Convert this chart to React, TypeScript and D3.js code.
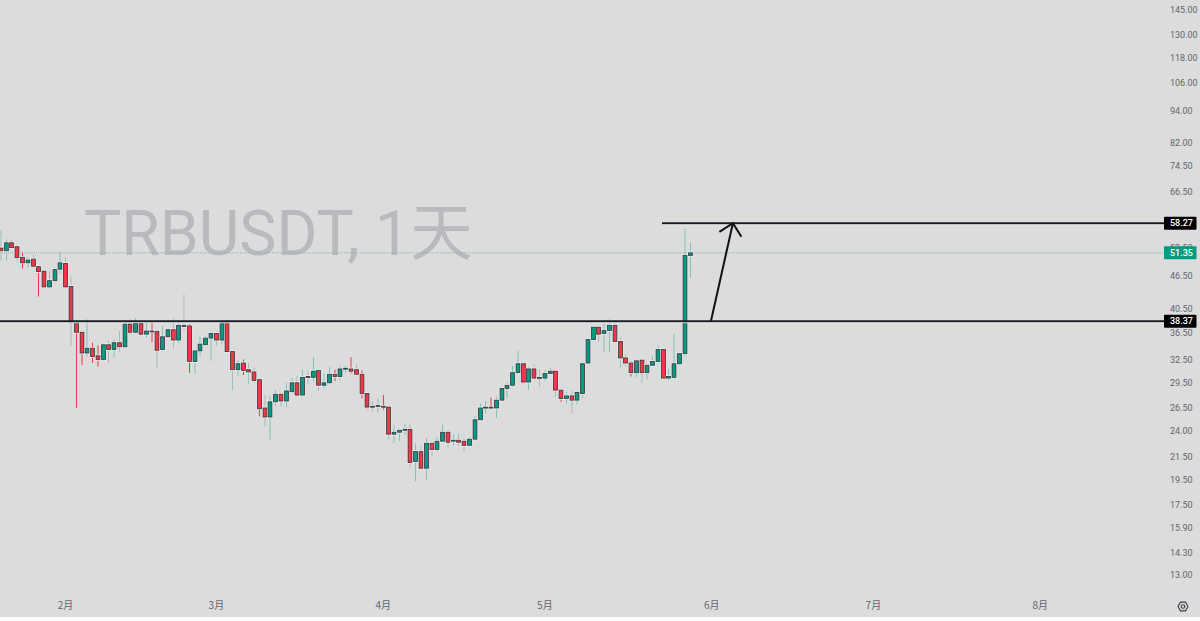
import { useEffect, useRef } from 'react';
import * as d3 from 'd3';

const width = 1200;
const height = 621;
const plotBottom = 617;

const firstDay = new Date(Date.UTC(2023, 0, 20));

// daily candles, one entry per day from firstDay
const opens = [52.4, 51.8, 53.6, 52.7, 50.4, 49.2, 50.0, 48.4, 47.5, 44.4, 45.6, 47.9, 49.1, 44.5, 38.1, 36.6, 33.5, 34.2, 33.1, 32.6, 34.7, 34.0, 35.0, 34.4, 37.9, 36.6, 38.0, 36.3, 36.8, 36.7, 34.0, 35.9, 37.0, 35.4, 37.7, 37.6, 32.3, 33.8, 34.7, 35.7, 36.4, 35.4, 38.2, 33.7, 31.2, 32.1, 31.2, 30.9, 29.9, 26.5, 25.5, 27.2, 28.1, 27.3, 28.4, 29.5, 28.0, 30.3, 30.2, 31.1, 29.2, 29.5, 30.6, 30.3, 31.3, 31.3, 31.2, 30.6, 28.2, 26.7, 26.7, 26.7, 26.6, 23.7, 23.9, 24.1, 24.2, 21.1, 22.0, 20.5, 22.8, 22.2, 23.0, 23.9, 23.0, 23.1, 23.0, 22.6, 23.2, 25.2, 26.5, 26.6, 26.5, 27.4, 28.8, 29.2, 30.8, 32.0, 29.6, 31.3, 30.2, 30.1, 30.7, 31.0, 28.6, 27.6, 27.9, 27.4, 28.2, 32.1, 35.5, 37.4, 36.4, 36.9, 37.7, 35.2, 32.8, 32.1, 30.8, 32.5, 30.8, 31.8, 32.3, 34.0, 30.1, 30.2, 32.0, 33.4, 50.8];
const highs = [56.6, 54.4, 54.4, 52.7, 51.4, 50.5, 51.0, 48.5, 47.7, 47.4, 48.2, 51.5, 50.4, 46.4, 38.3, 36.7, 38.7, 35.0, 34.6, 34.9, 35.3, 35.5, 36.8, 38.0, 38.8, 38.9, 38.1, 38.1, 38.3, 37.0, 37.6, 37.3, 38.8, 38.6, 43.0, 37.9, 34.0, 35.9, 36.1, 36.7, 36.7, 38.6, 38.6, 33.8, 32.5, 32.6, 32.1, 31.5, 30.0, 28.0, 27.9, 28.6, 28.1, 29.5, 30.1, 30.4, 31.2, 31.0, 32.9, 31.2, 30.7, 31.6, 31.2, 31.7, 31.7, 32.9, 31.9, 31.1, 28.2, 27.3, 27.6, 28.0, 26.7, 24.6, 24.3, 24.8, 24.8, 22.8, 22.5, 23.3, 22.9, 23.4, 24.7, 24.1, 23.7, 23.7, 23.3, 23.4, 25.6, 27.0, 27.3, 27.7, 27.8, 29.0, 29.5, 31.7, 33.8, 32.1, 31.6, 31.9, 31.2, 31.1, 31.4, 31.1, 28.7, 28.4, 28.6, 28.6, 32.2, 35.5, 37.5, 37.5, 38.1, 38.7, 38.2, 35.8, 33.3, 32.3, 32.5, 32.5, 32.0, 33.0, 34.6, 34.1, 31.3, 36.3, 33.5, 56.9, 53.6];
const lows = [49.6, 49.7, 52.4, 49.5, 48.0, 48.2, 48.2, 42.6, 44.1, 44.1, 45.3, 47.0, 44.1, 34.5, 26.5, 31.8, 33.0, 32.1, 31.6, 32.4, 32.1, 32.8, 33.7, 34.3, 36.2, 36.4, 35.9, 35.8, 35.1, 31.4, 33.7, 35.8, 34.2, 35.0, 37.0, 30.8, 30.6, 33.0, 34.5, 32.4, 34.6, 34.8, 33.5, 28.6, 30.4, 30.5, 29.3, 29.5, 25.6, 24.5, 23.1, 26.7, 26.7, 26.6, 28.3, 27.8, 27.9, 29.3, 29.7, 28.5, 28.8, 29.3, 29.7, 29.8, 30.8, 30.7, 30.5, 27.6, 26.3, 26.1, 26.0, 26.3, 23.2, 22.8, 23.0, 23.6, 20.5, 19.4, 20.4, 19.5, 21.5, 22.0, 22.9, 22.4, 22.6, 22.5, 22.0, 22.5, 23.1, 25.1, 25.9, 26.5, 25.4, 27.3, 27.6, 29.0, 30.7, 29.3, 28.6, 30.0, 29.0, 29.7, 30.5, 27.8, 27.2, 27.0, 25.9, 26.9, 27.7, 32.0, 35.3, 35.1, 33.6, 33.6, 35.1, 31.4, 31.6, 30.3, 30.2, 29.5, 29.9, 31.7, 32.2, 30.0, 29.8, 30.1, 31.8, 33.1, 46.2];
const closes = [51.8, 53.6, 52.5, 50.3, 49.2, 49.8, 48.5, 47.4, 44.4, 45.6, 47.8, 49.2, 44.4, 38.1, 36.6, 33.5, 34.2, 33.0, 32.6, 34.7, 34.0, 35.0, 34.4, 37.9, 36.6, 38.0, 36.3, 36.8, 36.7, 33.9, 35.9, 37.0, 35.4, 37.7, 37.5, 32.3, 33.8, 34.8, 35.7, 36.4, 35.4, 38.2, 33.7, 31.2, 32.0, 31.1, 30.9, 29.8, 26.4, 25.5, 27.2, 28.1, 27.3, 28.5, 29.5, 28.0, 30.2, 30.2, 31.0, 29.2, 29.5, 30.6, 30.3, 31.3, 31.4, 31.0, 30.6, 28.2, 26.6, 26.6, 26.8, 26.6, 23.7, 23.9, 24.1, 24.2, 21.0, 22.0, 20.5, 22.8, 22.2, 23.0, 23.9, 22.9, 23.1, 22.9, 22.6, 23.2, 25.2, 26.5, 26.6, 26.5, 27.4, 28.8, 29.2, 30.8, 32.0, 29.6, 31.3, 30.1, 30.1, 30.7, 31.0, 28.6, 27.6, 27.9, 27.4, 28.3, 32.0, 35.5, 37.4, 36.3, 36.9, 37.7, 35.2, 32.8, 32.1, 30.8, 32.4, 30.8, 31.8, 32.3, 34.0, 30.1, 30.3, 32.0, 33.4, 50.8, 51.35];

// down candles whose wick shows as plain red, the others look washed out
const redWickIndex = [4, 7, 14, 15, 17, 18, 28, 35, 45, 48, 62, 65, 67, 71, 91, 104, 117];

const priceTicks = [145, 130, 118, 106, 94, 82, 74.5, 66.5, 52.5, 46.5, 40.5, 36.5, 32.5, 29.5, 26.5, 24, 21.5, 19.5, 17.5, 15.9, 14.3, 13];
const monthTicks = ['2月', '3月', '4月', '5月', '6月', '7月', '8月'];
const monthDates = [1, 2, 3, 4, 5, 6, 7].map((m) => new Date(Date.UTC(2023, m, 1)));

const supportLevel = 38.37;
const targetLevel = 58.27;
const lastPrice = 51.35;
const targetStartDay = new Date(Date.UTC(2023, 4, 22, 18));
const arrowDays = [new Date(Date.UTC(2023, 4, 31, 20)), new Date(Date.UTC(2023, 5, 4, 22))];

const green = '#089981';
const red = '#f23645';
const ink = '#30333d';
const axisText = '#63656d';

const xScale = d3
  .scaleUtc()
  .domain([new Date(Date.UTC(2023, 1, 1)), new Date(Date.UTC(2023, 7, 1))])
  .range([65.6, 1040.3]);

const yScale = d3.scaleLog().domain([13, 130]).range([575, 35]);

export default function App() {
  const svgRef = useRef<SVGSVGElement>(null);

  useEffect(() => {
    if (!svgRef.current) return;
    const svg = d3.select(svgRef.current);
    svg.selectAll('*').remove();

    svg.append('rect').attr('width', width).attr('height', height).attr('fill', '#fff');
    svg.append('rect').attr('width', width).attr('height', plotBottom).attr('fill', '#dcdcdc');

    // Watermark
    svg
      .append('text')
      .attr('x', 84)
      .attr('y', 254.5)
      .attr('font-family', 'Roboto, "Noto Sans CJK SC", sans-serif')
      .attr('font-size', 62.5)
      .attr('fill', '#b9babe')
      .text('TRBUSDT, 1天');

    // Last price line
    svg
      .append('line')
      .attr('x1', 0)
      .attr('x2', 1164)
      .attr('y1', yScale(lastPrice))
      .attr('y2', yScale(lastPrice))
      .attr('stroke', '#8fb5ab')
      .attr('stroke-width', 1)
      .attr('stroke-dasharray', '1 1');

    // Candles
    const candles = d3.range(closes.length).map((i) => ({
      index: i,
      day: d3.utcDay.offset(firstDay, i),
      open: opens[i],
      high: highs[i],
      low: lows[i],
      close: closes[i],
    }));

    const g = svg.append('g');
    candles.forEach((d) => {
      const x = Math.round(xScale(d.day) * 2) / 2;
      const up = d.close >= d.open;
      const top = yScale(Math.max(d.open, d.close));
      const bottom = yScale(Math.min(d.open, d.close));
      const wick = up ? '#7fc4b5' : redWickIndex.includes(d.index) ? red : '#a5bdb8';
      g.append('line')
        .attr('x1', x)
        .attr('x2', x)
        .attr('y1', yScale(d.high))
        .attr('y2', yScale(d.low))
        .attr('stroke', wick)
        .attr('stroke-width', 1);
      g.append('rect')
        .attr('x', x - 2.7)
        .attr('y', top - 1.2)
        .attr('width', 5.4)
        .attr('height', Math.max(bottom - top, 0) + 2.4)
        .attr('fill', '#efefef');
      g.append('rect')
        .attr('x', x - 1.9)
        .attr('y', top)
        .attr('width', 3.8)
        .attr('height', Math.max(bottom - top, 1))
        .attr('fill', up ? green : red)
        .attr('stroke', ink)
        .attr('stroke-width', 0.8);
    });

    // Horizontal levels
    const levels = [
      { price: supportLevel, x1: 0 },
      { price: targetLevel, x1: xScale(targetStartDay) },
    ];
    levels.forEach((l) => {
      const y = yScale(l.price);
      svg.append('line').attr('x1', l.x1).attr('x2', 1164).attr('y1', y + 1.5).attr('y2', y + 1.5).attr('stroke', '#fff').attr('stroke-width', 1);
      svg.append('line').attr('x1', l.x1).attr('x2', 1164).attr('y1', y).attr('y2', y).attr('stroke', '#1a1c24').attr('stroke-width', 2);
    });

    // Arrow from the support level to the target
    const ax0 = xScale(arrowDays[0]);
    const ax1 = xScale(arrowDays[1]);
    const ay0 = yScale(supportLevel);
    const ay1 = yScale(targetLevel);
    const angle = Math.atan2(ay1 - ay0, ax1 - ax0);
    const headLen = 16;
    const headPath = d3.path();
    headPath.moveTo(ax1 + headLen * Math.cos(angle - 2.36), ay1 + headLen * Math.sin(angle - 2.36));
    headPath.lineTo(ax1, ay1);
    headPath.lineTo(ax1 + headLen * Math.cos(angle + 2.36), ay1 + headLen * Math.sin(angle + 2.36));
    headPath.moveTo(ax0, ay0);
    headPath.lineTo(ax1, ay1);
    svg.append('path').attr('d', headPath.toString()).attr('fill', 'none').attr('stroke', '#101216').attr('stroke-width', 2);

    // Price axis
    const font = 'Roboto, "Noto Sans", sans-serif';
    svg
      .append('g')
      .selectAll('text')
      .data(priceTicks)
      .join('text')
      .attr('x', 1170)
      .attr('y', (d) => yScale(d))
      .attr('dy', '0.35em')
      .attr('font-family', font)
      .attr('font-size', 9)
      .attr('fill', axisText)
      .text((d) => d.toFixed(2));

    // Price tags
    const tags = [
      { price: targetLevel, fill: '#000' },
      { price: lastPrice, fill: green },
      { price: supportLevel, fill: '#000' },
    ];
    tags.forEach((t) => {
      const y = yScale(t.price);
      svg.append('rect').attr('x', 1164).attr('y', y - 6.5).attr('width', 32.5).attr('height', 13).attr('rx', 1).attr('fill', t.fill);
      svg
        .append('text')
        .attr('x', 1170)
        .attr('y', y)
        .attr('dy', '0.35em')
        .attr('font-family', font)
        .attr('font-size', 9)
        .attr('font-weight', 500)
        .attr('fill', '#fff')
        .text(t.price.toFixed(2));
    });

    // Month axis
    svg
      .append('g')
      .selectAll('text')
      .data(monthTicks)
      .join('text')
      .attr('x', (_, i) => xScale(monthDates[i]))
      .attr('y', 605)
      .attr('dy', '0.35em')
      .attr('text-anchor', 'middle')
      .attr('font-family', '"Noto Sans CJK SC", Roboto, sans-serif')
      .attr('font-size', 10)
      .attr('fill', axisText)
      .text((d) => d);

    // Settings icon
    const icon = svg.append('g').attr('transform', 'translate(1183,606.5)');
    const hex = d3.range(6).map((i) => {
      const a = (Math.PI / 3) * i;
      return [5 * Math.cos(a), 5 * Math.sin(a)] as [number, number];
    });
    icon.append('path').attr('d', d3.line().curve(d3.curveLinearClosed)(hex)).attr('fill', 'none').attr('stroke', '#3a3d47').attr('stroke-width', 1.1);
    icon.append('circle').attr('r', 1.8).attr('fill', 'none').attr('stroke', '#3a3d47').attr('stroke-width', 1.1);
  }, []);

  return (
    <svg
      ref={svgRef}
      width={width}
      height={height}
      style={{ display: 'block', position: 'absolute', left: 0, top: 0 }}
    />
  );
}
